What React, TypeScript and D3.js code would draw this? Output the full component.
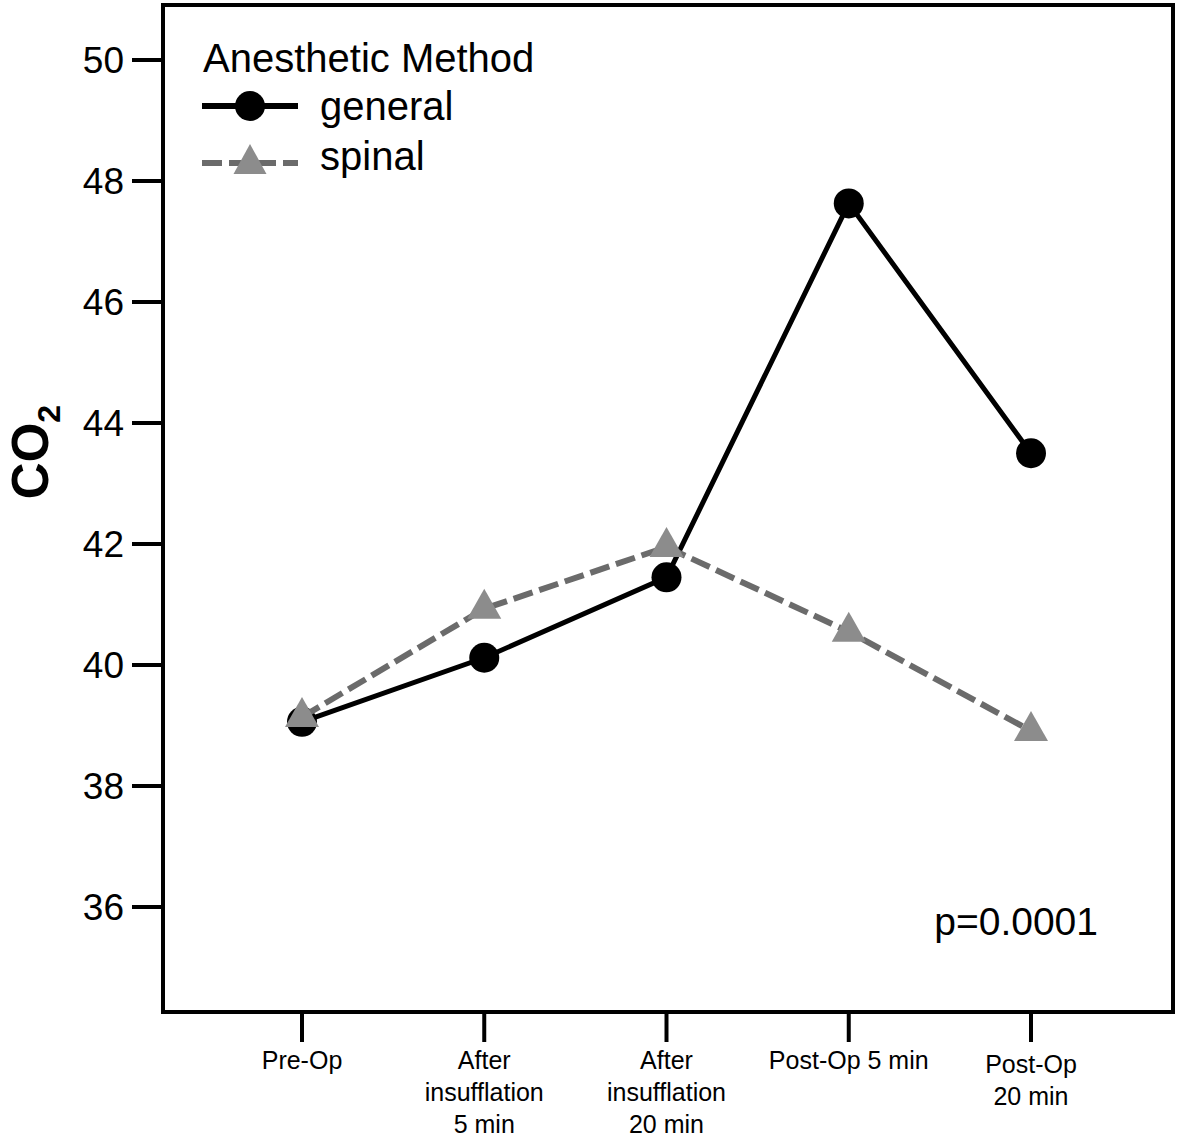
import React from "react";
import * as d3 from "d3";

const categories: string[][] = [
  ["Pre-Op"],
  ["After", "insufflation", "5 min"],
  ["After", "insufflation", "20 min"],
  ["Post-Op 5 min"],
  ["Post-Op", "20 min"],
];
const generalValues = [39.06, 40.12, 41.45, 47.63, 43.5];
const spinalValues = [39.14, 40.93, 41.95, 40.55, 38.91];
const yTicks = [36, 38, 40, 42, 44, 46, 48, 50];
const seriesNames = ["general", "spinal"];
const legendTitle = "Anesthetic Method";
const pText = "p=0.0001";

const W = 1181;
const H = 1138;
const FONT = "'Liberation Sans', Arial, Helvetica, sans-serif";

export default function App() {
  const y = d3.scaleLinear().domain([36, 50]).range([907, 60]);
  const frame = { left: 163, right: 1173, top: 5, bottom: 1012 };
  const x = d3
    .scalePoint<number>()
    .domain(categories.map((_, i) => i))
    .range([302, 1031]);

  const line = d3
    .line<number>()
    .x((_, i) => x(i)!)
    .y((d) => y(d));

  const triPath = (w: number, h: number) =>
    `M0,${(-2 * h) / 3}L${w / 2},${h / 3}L${-w / 2},${h / 3}Z`;

  const black = "#000";
  const dashColor = "#6b6b6b";
  const triFill = "#8c8c8c";

  return (
    <svg
      width={W}
      height={H}
      style={{ position: "absolute", left: 0, top: 0, background: "#fff" }}
      fontFamily={FONT}
    >
      <rect x={0} y={0} width={W} height={H} fill="#fff" />
      {/* frame */}
      <rect
        x={frame.left}
        y={frame.top}
        width={frame.right - frame.left}
        height={frame.bottom - frame.top}
        fill="none"
        stroke={black}
        strokeWidth={4}
      />
      {/* y ticks */}
      {yTicks.map((t) => (
        <g key={t}>
          <line x1={132} x2={frame.left} y1={y(t)} y2={y(t)} stroke={black} strokeWidth={4} />
          <text
            x={124}
            y={y(t)}
            dy="0.36em"
            textAnchor="end"
            fontSize={37}
            fill={black}
          >
            {t}
          </text>
        </g>
      ))}
      {/* y title */}
      <text
        transform="translate(48,452) rotate(-90)"
        textAnchor="middle"
        fontSize={51}
        fontWeight="bold"
        fill={black}
      >
        CO
        <tspan fontSize={32} dy={12}>
          2
        </tspan>
      </text>
      {/* x ticks */}
      {categories.map((c, i) => (
        <g key={i}>
          <line x1={x(i)} x2={x(i)} y1={frame.bottom} y2={1042} stroke={black} strokeWidth={4} />
          <text textAnchor="middle" fontSize={25} fill={black}>
            {c.map((l, j) => (
              <tspan key={j} x={x(i)} y={1069 + j * 32 + (c.length === 2 ? 4 : 0)}>
                {l}
              </tspan>
            ))}
          </text>
        </g>
      ))}
      {/* general series */}
      <path d={line(generalValues)!} fill="none" stroke={black} strokeWidth={5} />
      {generalValues.map((v, i) => (
        <circle key={i} cx={x(i)} cy={y(v)} r={15} fill={black} />
      ))}
      {/* spinal series */}
      <path
        d={line(spinalValues)!}
        fill="none"
        stroke={dashColor}
        strokeWidth={6}
        strokeDasharray="20,7"
      />
      {spinalValues.map((v, i) => (
        <path
          key={i}
          d={triPath(34, 30)}
          transform={`translate(${x(i)},${y(v)})`}
          fill={triFill}
        />
      ))}
      {/* legend */}
      <text x={203} y={72} fontSize={40} fill={black}>
        {legendTitle}
      </text>
      <line x1={202} x2={298} y1={106} y2={106} stroke={black} strokeWidth={6} />
      <circle cx={250} cy={106} r={15} fill={black} />
      <text x={320} y={106} dy="0.36em" fontSize={40} fill={black}>
        {seriesNames[0]}
      </text>
      <line
        x1={202}
        x2={298}
        y1={163}
        y2={163}
        stroke={dashColor}
        strokeWidth={6}
        strokeDasharray="20,7"
      />
      <path d={triPath(33, 30)} transform="translate(250,164)" fill={triFill} />
      <text x={320} y={156} dy="0.36em" fontSize={40} fill={black}>
        {seriesNames[1]}
      </text>
      {/* p value */}
      <text x={1098} y={935} textAnchor="end" fontSize={39} fill={black}>
        {pText}
      </text>
    </svg>
  );
}
